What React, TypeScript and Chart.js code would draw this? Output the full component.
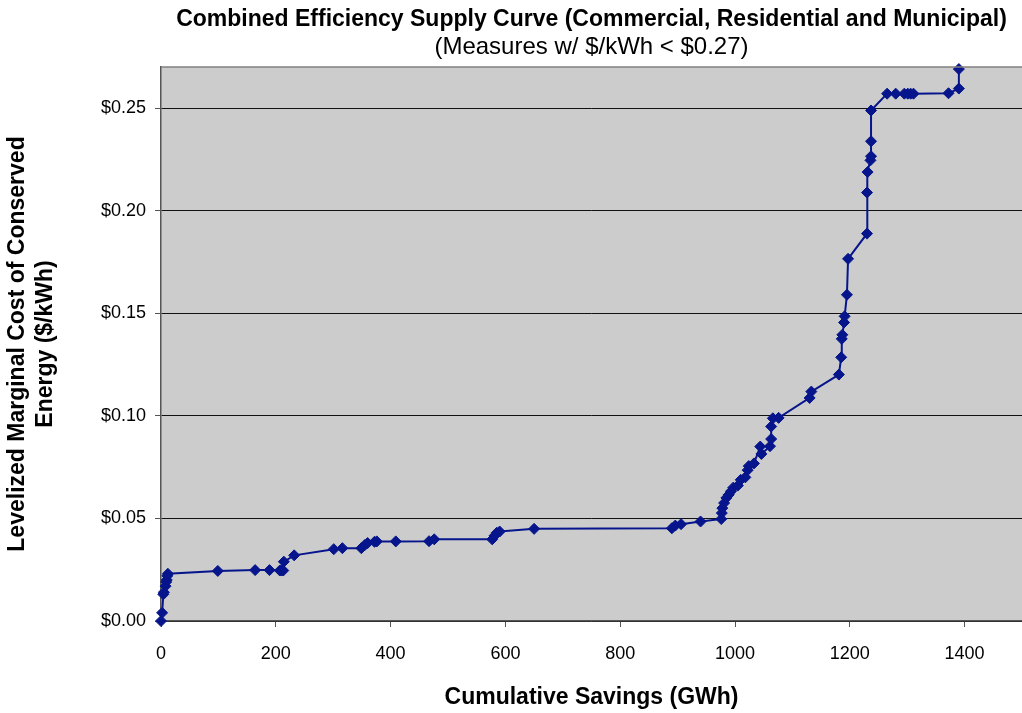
import React, { useEffect, useRef } from "react";
import { Chart, registerables } from "chart.js";

Chart.register(...registerables);

const chartTitle = "Combined Efficiency Supply Curve (Commercial, Residential and Municipal)";
const chartSubtitle = "(Measures w/ $/kWh < $0.27)";
const xAxisTitle = "Cumulative Savings (GWh)";
const yAxisTitle = ["Levelized Marginal Cost of Conserved", "Energy ($/kWh)"];

// Cumulative savings (GWh)
const savingsGWh = [
  0, 2, 4, 5, 8, 9, 10, 11, 12,
  99, 164, 189, 207, 210, 213, 214, 232,
  301, 316, 349, 355, 360, 372, 376, 409, 467, 476,
  577, 581, 585, 590, 650,
  890, 896, 906, 940, 976, 977, 978, 981, 985, 989, 993, 997,
  1005, 1010, 1018, 1022, 1024, 1033, 1044, 1046, 1061, 1063, 1063, 1066, 1076,
  1130, 1133, 1181, 1185, 1186, 1187, 1190, 1191, 1195, 1197,
  1230, 1230, 1231, 1236, 1237, 1237, 1237,
  1265, 1280, 1295, 1301, 1306, 1311, 1372, 1390, 1390,
];

// Levelized marginal cost ($/kWh)
const costPerKWh = [
  0.0, 0.004, 0.013, 0.014, 0.017, 0.019, 0.02, 0.022, 0.023,
  0.0244, 0.0248, 0.0248, 0.0246, 0.0246, 0.0246, 0.0289, 0.032,
  0.035, 0.0355, 0.0355, 0.037, 0.038, 0.0386, 0.0388, 0.0388, 0.0389, 0.0398,
  0.0398, 0.0415, 0.043, 0.0436, 0.0449,
  0.0452, 0.0465, 0.0472, 0.0485, 0.0497, 0.0526, 0.055, 0.0575, 0.06, 0.0615, 0.0632, 0.065,
  0.066, 0.0688, 0.07, 0.0735, 0.0755, 0.0768, 0.085, 0.0814, 0.0852, 0.0887, 0.0948, 0.0988, 0.099,
  0.1087, 0.1118, 0.1201, 0.1285, 0.1375, 0.1395, 0.1455, 0.1485, 0.159, 0.1765,
  0.1888, 0.2088, 0.2188, 0.2245, 0.2265, 0.2338, 0.2488,
  0.257, 0.257, 0.257, 0.257, 0.257, 0.257, 0.2572, 0.2595, 0.269,
];

const xTickStep = 200;
const yTickStep = 0.05;

const FONT = "'Liberation Sans', Arial, Helvetica, sans-serif";

const plotBackground = {
  id: "plotBackground",
  beforeDraw(chart: any) {
    const { ctx, chartArea } = chart;
    ctx.save();
    ctx.fillStyle = "#CCCCCC";
    ctx.fillRect(chartArea.left, chartArea.top, chartArea.right - chartArea.left, chartArea.bottom - chartArea.top);
    ctx.restore();
  },
  afterDraw(chart: any) {
    const { ctx, chartArea } = chart;
    ctx.save();
    ctx.strokeStyle = "#808080";
    ctx.lineWidth = 1.5;
    ctx.beginPath();
    ctx.moveTo(chartArea.left, chartArea.top);
    ctx.lineTo(chartArea.right, chartArea.top);
    ctx.stroke();
    ctx.restore();
  },
};

export default function App() {
  const canvasRef = useRef<HTMLCanvasElement | null>(null);

  useEffect(() => {
    if (!canvasRef.current) return;
    const points = savingsGWh.map((x, i) => ({ x, y: costPerKWh[i] }));
    const chart = new Chart(canvasRef.current, {
      type: "scatter",
      data: {
        datasets: [
          {
            data: points,
            showLine: true,
            borderColor: "#06158C",
            backgroundColor: "#06158C",
            borderWidth: 2,
            pointStyle: "rectRot",
            pointRadius: 5.5,
            pointBorderWidth: 1,
            pointBackgroundColor: "#06158C",
            pointBorderColor: "#06158C",
            tension: 0,
            clip: false,
          },
        ],
      },
      options: {
        responsive: false,
        animation: false,
        layout: { autoPadding: false, padding: { left: 0, right: -3, top: 0, bottom: 0 } },
        plugins: {
          legend: { display: false },
          tooltip: { enabled: false },
          title: {
            display: true,
            text: chartTitle,
            fullSize: false,
            color: "#000",
            font: { family: FONT, size: 23, weight: "bold", lineHeight: 1.2 },
            padding: { top: 6, bottom: 0 },
          },
          subtitle: {
            display: true,
            text: chartSubtitle,
            fullSize: false,
            color: "#000",
            font: { family: FONT, size: 24, weight: "normal", lineHeight: 1.15 },
            padding: { top: 0, bottom: 5.8 },
          },
        },
        scales: {
          x: {
            type: "linear",
            min: 0,
            max: 1500,
            afterFit(scale: any) {
              scale.height = 92;
              scale.paddingRight = 0;
            },
            ticks: {
              stepSize: xTickStep,
              includeBounds: false,
              color: "#000",
              font: { family: FONT, size: 18 },
              padding: 16,
              maxRotation: 0,
              callback: (v: any) => String(v),
            },
            grid: {
              drawOnChartArea: false,
              drawTicks: true,
              tickLength: 6,
              color: "#555",
            },
            border: { display: true, color: "#555", width: 1.5 },
            title: {
              display: true,
              text: xAxisTitle,
              color: "#000",
              font: { family: FONT, size: 23, weight: "bold", lineHeight: 1.2 },
              padding: { top: 0, bottom: 2 },
            },
          },
          y: {
            type: "linear",
            min: 0,
            max: 0.27,
            afterFit(scale: any) {
              scale.width = 161;
            },
            ticks: {
              stepSize: yTickStep,
              includeBounds: false,
              color: "#000",
              font: { family: FONT, size: 18 },
              padding: 9,
              callback: (v: any) => "$" + Number(v).toFixed(2),
            },
            grid: {
              color: "#111",
              lineWidth: 1,
              drawTicks: true,
              tickLength: 6,
              tickColor: "#555",
            },
            border: { display: true, color: "#555", width: 1.5 },
            title: {
              display: true,
              text: yAxisTitle,
              color: "#000",
              font: { family: FONT, size: 23, weight: "bold", lineHeight: 1.22 },
              padding: { top: 4, bottom: 0 },
            },
          },
        },
      },
      plugins: [plotBackground],
    });
    return () => chart.destroy();
  }, []);

  return (
    <div style={{ position: "absolute", left: 0, top: 0, width: 1022, height: 713, background: "#fff" }}>
      <canvas ref={canvasRef} width={1022} height={713} style={{ display: "block" }} />
    </div>
  );
}
